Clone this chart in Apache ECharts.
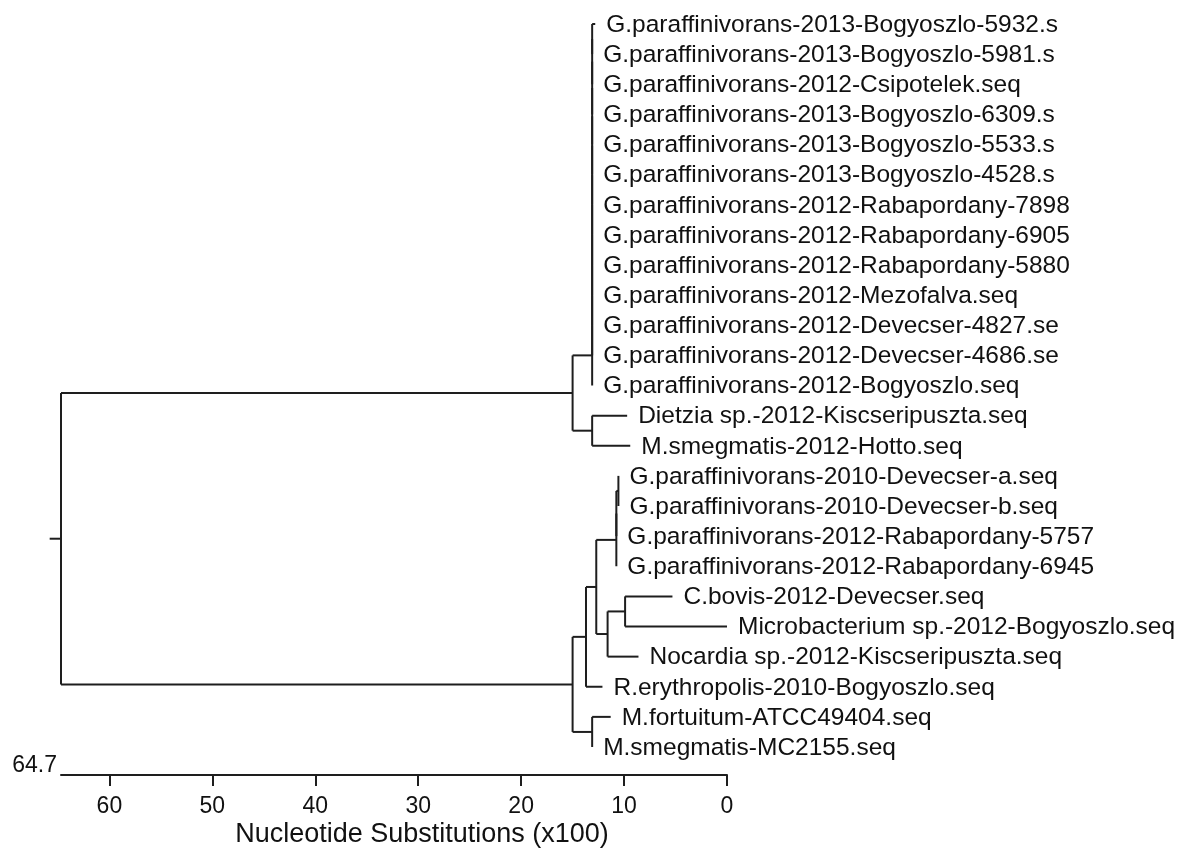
<!DOCTYPE html>
<html>
<head>
<meta charset="utf-8">
<script src="https://cdn.jsdelivr.net/npm/echarts@6/dist/echarts.min.js"></script>
<style>
html, body { margin: 0; padding: 0; background: #fff; }
#tree { width: 1180px; height: 857px; }
</style>
</head>
<body>
<div id="tree"></div>
<script>
// leaves, top to bottom
var leafNames = [
    'G.paraffinivorans-2013-Bogyoszlo-5932.s',
    'G.paraffinivorans-2013-Bogyoszlo-5981.s',
    'G.paraffinivorans-2012-Csipotelek.seq',
    'G.paraffinivorans-2013-Bogyoszlo-6309.s',
    'G.paraffinivorans-2013-Bogyoszlo-5533.s',
    'G.paraffinivorans-2013-Bogyoszlo-4528.s',
    'G.paraffinivorans-2012-Rabapordany-7898',
    'G.paraffinivorans-2012-Rabapordany-6905',
    'G.paraffinivorans-2012-Rabapordany-5880',
    'G.paraffinivorans-2012-Mezofalva.seq',
    'G.paraffinivorans-2012-Devecser-4827.se',
    'G.paraffinivorans-2012-Devecser-4686.se',
    'G.paraffinivorans-2012-Bogyoszlo.seq',
    'Dietzia sp.-2012-Kiscseripuszta.seq',
    'M.smegmatis-2012-Hotto.seq',
    'G.paraffinivorans-2010-Devecser-a.seq',
    'G.paraffinivorans-2010-Devecser-b.seq',
    'G.paraffinivorans-2012-Rabapordany-5757',
    'G.paraffinivorans-2012-Rabapordany-6945',
    'C.bovis-2012-Devecser.seq',
    'Microbacterium sp.-2012-Bogyoszlo.seq',
    'Nocardia sp.-2012-Kiscseripuszta.seq',
    'R.erythropolis-2010-Bogyoszlo.seq',
    'M.fortuitum-ATCC49404.seq',
    'M.smegmatis-MC2155.seq'
];

// where each leaf branch ends (nucleotide substitutions x100)
var leafHeights = [
    12.8, 13.1, 13.1, 13.1, 13.1, 13.1, 13.1, 13.1, 13.1, 13.1, 13.1, 13.1, 13.1,
    9.7, 9.4,
    10.55, 10.55, 10.75, 10.75,
    5.3, 0.0, 8.6, 12.1,
    11.3, 13.1
];

// internal nodes: height + children (number = leaf index, 'nK' = node K)
var nodeHeights = [
    13.1, 13.1, 13.1, 13.1, 13.1, 13.1, 13.1, 13.1, 13.1, 13.1, 13.1, 13.1,
    13.1, 15.0,
    10.55, 10.75, 10.75,
    9.9, 11.6, 12.7, 13.7,
    13.1, 15.0,
    64.7
];
var nodeKids = [
    [0, 1], ['n0', 2], ['n1', 3], ['n2', 4], ['n3', 5], ['n4', 6],
    ['n5', 7], ['n6', 8], ['n7', 9], ['n8', 10], ['n9', 11], ['n10', 12],
    [13, 14], ['n11', 'n12'],
    [15, 16], ['n14', 17], ['n15', 18],
    [19, 20], ['n17', 21], ['n16', 'n18'], ['n19', 22],
    [23, 24], ['n20', 'n21'],
    ['n13', 'n22']
];
var rootStub = 1.1;

var treeMax = 64.7;
var tickValues = [0, 10, 20, 30, 40, 50, 60];
var axisTitle = 'Nucleotide Substitutions (x100)';

var font = 'Liberation Sans, Arial, sans-serif';
var ink = '#1e1e1e';

// turn the tree into segments [x1, y1, x2, y2] in data units
var joins = {};
function joinOf(ref) {
    if (typeof ref === 'number') return { h: leafHeights[ref], y: ref };
    return joins[ref];
}
var segments = [];
nodeKids.forEach(function (kids, k) {
    var h = nodeHeights[k];
    var js = kids.map(joinOf);
    var ys = js.map(function (j) { return j.y; });
    segments.push([h, Math.min.apply(null, ys), h, Math.max.apply(null, ys)]);
    js.forEach(function (j) { segments.push([h, j.y, j.h, j.y]); });
    joins['n' + k] = { h: h, y: ys.reduce(function (a, b) { return a + b; }, 0) / ys.length };
});
var root = joins['n' + (nodeKids.length - 1)];
segments.push([root.h + rootStub, root.y, root.h, root.y]);

var leafData = leafHeights.map(function (h, i) { return [h, i]; });

var chart = echarts.init(document.getElementById('tree'));

chart.setOption({
    animation: false,
    grid: { left: 61, right: 453, top: 24, bottom: 110 },
    xAxis: {
        type: 'value',
        position: 'bottom',
        inverse: true,
        min: 0,
        max: treeMax,
        interval: 10,
        offset: 28,
        splitLine: { show: false },
        axisLine: { onZero: false, lineStyle: { color: ink, width: 2 } },
        axisTick: { customValues: tickValues, length: 11, lineStyle: { color: ink, width: 2 } },
        axisLabel: { customValues: tickValues, margin: 20, fontSize: 23, color: '#111', fontFamily: font },
        name: String(treeMax),
        nameLocation: 'end',
        nameGap: 4,
        nameTextStyle: { fontSize: 23, color: '#111', fontFamily: font, verticalAlign: 'bottom', padding: [0, 0, -2, 0] }
    },
    yAxis: { type: 'value', inverse: true, min: 0, max: leafNames.length - 1, show: false },
    graphic: [{
        type: 'text',
        x: 422,
        y: 835,
        style: { text: axisTitle, fontSize: 27, fontFamily: font, fill: '#111', align: 'center', verticalAlign: 'middle' }
    }],
    series: [
        {
            type: 'custom',
            clip: false,
            silent: true,
            renderItem: function (params, api) {
                var a = api.coord([api.value(0), api.value(1)]);
                var b = api.coord([api.value(2), api.value(3)]);
                return {
                    type: 'line',
                    shape: { x1: a[0], y1: a[1], x2: b[0], y2: b[1] },
                    style: { stroke: ink, lineWidth: 2 }
                };
            },
            encode: { x: [0, 2], y: [1, 3] },
            data: segments
        },
        {
            type: 'custom',
            clip: false,
            silent: true,
            renderItem: function (params, api) {
                var p = api.coord([api.value(0), api.value(1)]);
                return {
                    type: 'text',
                    x: p[0] + 11,
                    y: p[1] + 1,
                    style: {
                        text: leafNames[params.dataIndex],
                        fontSize: 24.5,
                        fontFamily: font,
                        fill: '#111',
                        verticalAlign: 'middle'
                    }
                };
            },
            encode: { x: 0, y: 1 },
            data: leafData
        }
    ]
});
</script>
</body>
</html>
